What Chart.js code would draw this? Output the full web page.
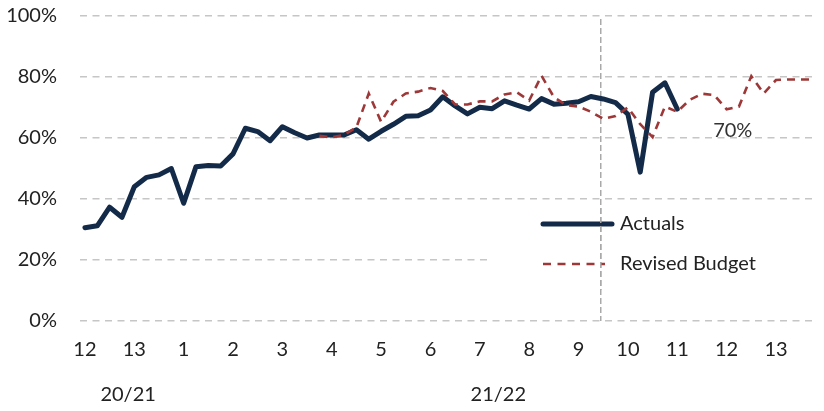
<!DOCTYPE html>
<html>
<head>
<meta charset="utf-8">
<title>Actuals vs Revised Budget</title>
<script src="https://cdn.jsdelivr.net/npm/chart.js@4/dist/chart.umd.min.js"></script>
<style>
  html, body { margin: 0; padding: 0; background: #ffffff; }
  canvas { display: block; }
</style>
</head>
<body>
<canvas id="chart" width="824" height="411"></canvas>
<script>
// Accounting periods shown along the x axis (four weeks per period)
const weeksPerPeriod = 4;
const periodLabels = ['12', '13', '1', '2', '3', '4', '5', '6', '7', '8', '9', '10', '11', '12', '13'];

// Financial years and how many of the periods above belong to each
const yearLabels = ['20/21', '21/22'];
const periodsPerYear = [2, 13];

// Weekly percentages
const actuals = [
  30.6, 31.2, 37.3, 34.0, 44.0, 47.1, 47.9, 50.0,
  38.6, 50.6, 51.0, 50.8, 54.8, 63.2, 62.1, 59.1,
  63.7, 61.7, 60.0, 61.0, 61.0, 61.0, 62.7, 59.6,
  62.2, 64.5, 67.1, 67.3, 69.2, 73.5, 70.5, 67.9,
  70.1, 69.6, 72.2, 70.8, 69.5, 72.9, 71.1, 71.4,
  71.9, 73.6, 72.8, 71.6, 67.8, 48.8, 75.0, 78.1,
  69.5, null, null, null, null, null, null, null,
  null, null, null, null
];

const revisedBudget = [
  null, null, null, null, null, null, null, null,
  null, null, null, null, null, null, null, null,
  null, null, null, 60.7, 60.2, 61.0, 63.5, 74.6,
  65.3, 71.9, 74.6, 75.2, 76.4, 75.4, 71.0, 71.0,
  72.0, 72.0, 74.3, 75.0, 72.3, 80.4, 73.4, 70.8,
  70.3, 68.6, 66.3, 67.2, 70.0, 64.5, 60.3, 70.3,
  68.6, 72.5, 74.5, 74.1, 69.4, 70.3, 80.3, 74.6,
  79.0, 79.2, 79.2, 79.2
];

// Y axis range and step (percent)
const yMin = 0, yMax = 100, yStep = 20;

// Full-year budget figure written on the chart
const budgetNote = '70%';

// Week at which the forecast split line is drawn
const splitWeek = 41.8;

const seriesNames = ['Actuals', 'Revised Budget'];

const FONT = 'Lato, "Open Sans", "DejaVu Sans", sans-serif';
const TEXT = '#222222';
const NAVY = '#132b48';
const RED = '#9e3838';

function toPoints(values) {
  return values
    .map((v, i) => ({ x: i, y: v }))
    .filter(p => p.y !== null);
}

const lastWeek = periodLabels.length * weeksPerPeriod - 1;

function drawSplit(ctx, px, top, bottom) {
  ctx.save();
  ctx.strokeStyle = '#a9a9a9';
  ctx.lineWidth = 1.5;
  ctx.setLineDash([6, 3]);
  ctx.beginPath();
  ctx.moveTo(px, top);
  ctx.lineTo(px, bottom);
  ctx.stroke();
  ctx.restore();
}

const overlay = {
  id: 'overlay',
  beforeDatasetsDraw(chart) {
    const { ctx, chartArea, scales } = chart;
    const x = scales.x, y = scales.y;
    ctx.save();
    // blank panel behind the key
    ctx.fillStyle = '#ffffff';
    ctx.fillRect(487, 208, chartArea.right - 487 + 12, 82);
    // split line
    drawSplit(ctx, x.getPixelForValue(splitWeek), y.getPixelForValue(99), y.getPixelForValue(0));
    ctx.restore();
  },
  afterDatasetsDraw(chart) {
    const { ctx, scales } = chart;
    const x = scales.x, y = scales.y;
    ctx.save();

    // key
    const keyX0 = 543, keyX1 = 612, textX = 620;
    const rowA = 224, rowB = 264;
    ctx.lineCap = 'round';
    ctx.strokeStyle = NAVY;
    ctx.lineWidth = 5;
    ctx.beginPath();
    ctx.moveTo(keyX0, rowA);
    ctx.lineTo(keyX1, rowA);
    ctx.stroke();

    ctx.lineCap = 'butt';
    ctx.strokeStyle = RED;
    ctx.lineWidth = 2.6;
    ctx.setLineDash([8, 6.5]);
    ctx.beginPath();
    ctx.moveTo(keyX0, rowB);
    ctx.lineTo(keyX1 - 7, rowB);
    ctx.stroke();
    ctx.setLineDash([]);

    // split line shown across the key
    drawSplit(ctx, x.getPixelForValue(splitWeek), 208, 290);

    ctx.fillStyle = TEXT;
    ctx.font = '20px ' + FONT;
    ctx.textAlign = 'left';
    ctx.textBaseline = 'middle';
    ctx.fillText(seriesNames[0], textX, rowA);
    ctx.fillText(seriesNames[1], textX, rowB);

    // budget note
    ctx.textAlign = 'center';
    ctx.fillStyle = '#333333';
    ctx.fillText(budgetNote, x.getPixelForValue(52.5), y.getPixelForValue(62.3));

    // financial year captions under the period labels
    ctx.fillStyle = TEXT;
    let start = 0;
    yearLabels.forEach((label, k) => {
      const weeks = periodsPerYear[k] * weeksPerPeriod;
      const end = Math.min(start + weeks - 1, lastWeek);
      const cx = (x.getPixelForValue(start) + x.getPixelForValue(end)) / 2;
      ctx.fillText(label, cx, 395);
      start += weeks;
    });
    ctx.restore();
  }
};

new Chart(document.getElementById('chart'), {
  type: 'line',
  data: {
    datasets: [
      {
        label: seriesNames[0],
        data: toPoints(actuals),
        borderColor: NAVY,
        borderWidth: 5,
        borderCapStyle: 'round',
        borderJoinStyle: 'round',
        pointRadius: 0,
        tension: 0,
        order: 1
      },
      {
        label: seriesNames[1],
        data: toPoints(revisedBudget),
        borderColor: RED,
        borderWidth: 2.6,
        borderDash: [8, 6],
        pointRadius: 0,
        tension: 0,
        order: 0
      }
    ]
  },
  options: {
    responsive: false,
    animation: false,
    devicePixelRatio: 1,
    layout: { padding: { top: 16, right: 11, bottom: 0, left: 0 } },
    plugins: {
      legend: { display: false },
      tooltip: { enabled: false }
    },
    scales: {
      x: {
        type: 'linear',
        min: -0.4,
        max: lastWeek,
        grid: { display: false, drawTicks: false },
        border: { display: false },
        afterBuildTicks(scale) {
          scale.ticks = periodLabels.map((_, k) => ({ value: k * weeksPerPeriod }));
        },
        afterFit(scale) {
          scale.height = 90;
          scale.paddingLeft = 0;
          scale.paddingRight = 0;
        },
        ticks: {
          autoSkip: false,
          maxRotation: 0,
          padding: 17,
          color: TEXT,
          font: { family: FONT, size: 20 },
          callback: (value, index) => periodLabels[index]
        }
      },
      y: {
        min: yMin,
        max: yMax,
        afterFit(scale) {
          scale.width = 80;
          scale.paddingTop = 0;
          scale.paddingBottom = 0;
        },
        grid: { color: '#c6c6c6', lineWidth: 1.6, drawTicks: false },
        border: { display: false, dash: [7, 5.5] },
        ticks: {
          stepSize: yStep,
          padding: 23,
          color: TEXT,
          font: { family: FONT, size: 20 },
          callback: v => v + '%'
        }
      }
    }
  },
  plugins: [overlay]
});
</script>
</body>
</html>
